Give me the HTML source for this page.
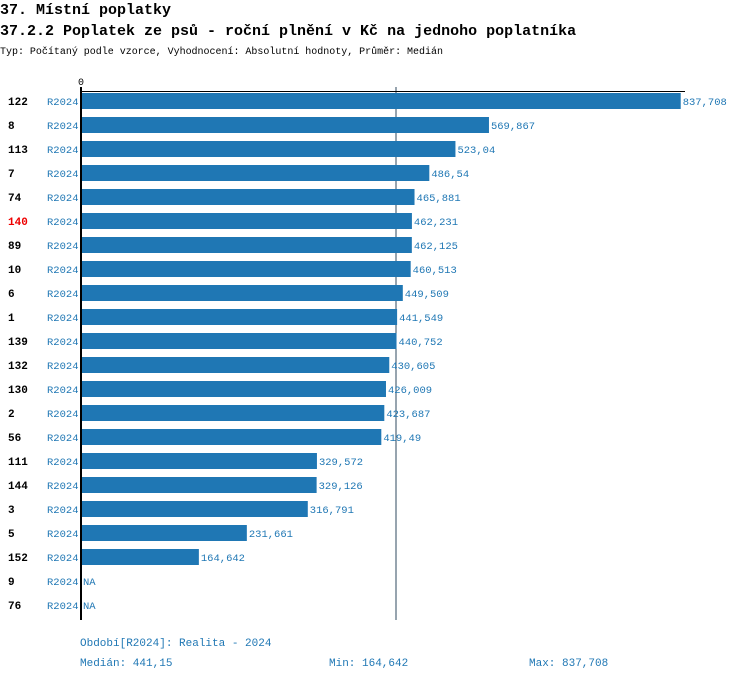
<!DOCTYPE html>
<html><head><meta charset="utf-8"><style>
body{margin:0;background:#fff;width:750px;height:680px;overflow:hidden;font-family:"Liberation Mono","DejaVu Sans Mono",monospace}
svg text{font-family:"Liberation Mono","DejaVu Sans Mono",monospace}
</style></head><body>
<svg id="c" width="750" height="680">
<text x="0" y="14" font-size="15" font-weight="bold" fill="#000">37. Místní poplatky</text>
<text x="0" y="35" font-size="15" font-weight="bold" fill="#000">37.2.2 Poplatek ze psů - roční plnění v Kč na jednoho poplatníka</text>
<text x="0" y="54" font-size="10" fill="#000" textLength="443">Typ: Počítaný podle vzorce, Vyhodnocení: Absolutní hodnoty, Průměr: Medián</text>
<text x="78" y="85" font-size="10" fill="#000">0</text>
<line x1="396" y1="87" x2="396" y2="620" stroke="#2f4a5f" stroke-width="1"/>
<g id="bars"></g>
<line x1="81" y1="87" x2="81" y2="620" stroke="#000" stroke-width="2"/>
<line x1="80" y1="91.5" x2="685" y2="91.5" stroke="#000" stroke-width="1"/>
<text x="80" y="646" font-size="11" fill="#1f77b4">Období[R2024]: Realita - 2024</text>
<text x="80" y="666" font-size="11" fill="#1f77b4">Medián: 441,15</text>
<text x="329" y="666" font-size="11" fill="#1f77b4">Min: 164,642</text>
<text x="529" y="666" font-size="11" fill="#1f77b4">Max: 837,708</text>
</svg>
<script>
const ids=["122","8","113","7","74","140","89","10","6","1","139","132","130","2","56","111","144","3","5","152","9","76"];
const values=[837.708,569.867,523.04,486.54,465.881,462.231,462.125,460.513,449.509,441.549,440.752,430.605,426.009,423.687,419.49,329.572,329.126,316.791,231.661,164.642,null,null];
const labels=["837,708","569,867","523,04","486,54","465,881","462,231","462,125","460,513","449,509","441,549","440,752","430,605","426,009","423,687","419,49","329,572","329,126","316,791","231,661","164,642","NA","NA"];
const highlight="140";
const NS="http://www.w3.org/2000/svg";
const x=v=>81+v*0.7159;
const y=i=>101+i*24;
const g=document.getElementById('bars');
function mk(t,a){const e=document.createElementNS(NS,t);for(const k in a)e.setAttribute(k,a[k]);g.appendChild(e);return e;}
ids.forEach((id,i)=>{
  const cy=y(i);
  const t=mk('text',{x:8,y:cy+4,'font-size':11,'font-weight':'bold',fill:id===highlight?'#e00':'#000'});
  t.textContent=id;
  
  
  const p=mk('text',{x:47,y:cy+4,'font-size':10.5,fill:'#1f77b4'});
  p.textContent='R2024';
  
  
  const v=values[i];
  let end=83;
  if(v!==null){
    const r=mk('rect',{x:81,y:cy-8,width:x(v)-81,height:16,fill:'#1f77b4'});
    
    
    end=x(v)+2;
  }
  const l=mk('text',{x:end,y:cy+4,'font-size':10.5,fill:'#1f77b4'});
  l.textContent=labels[i];
  
  
});
</script>
</body></html>
